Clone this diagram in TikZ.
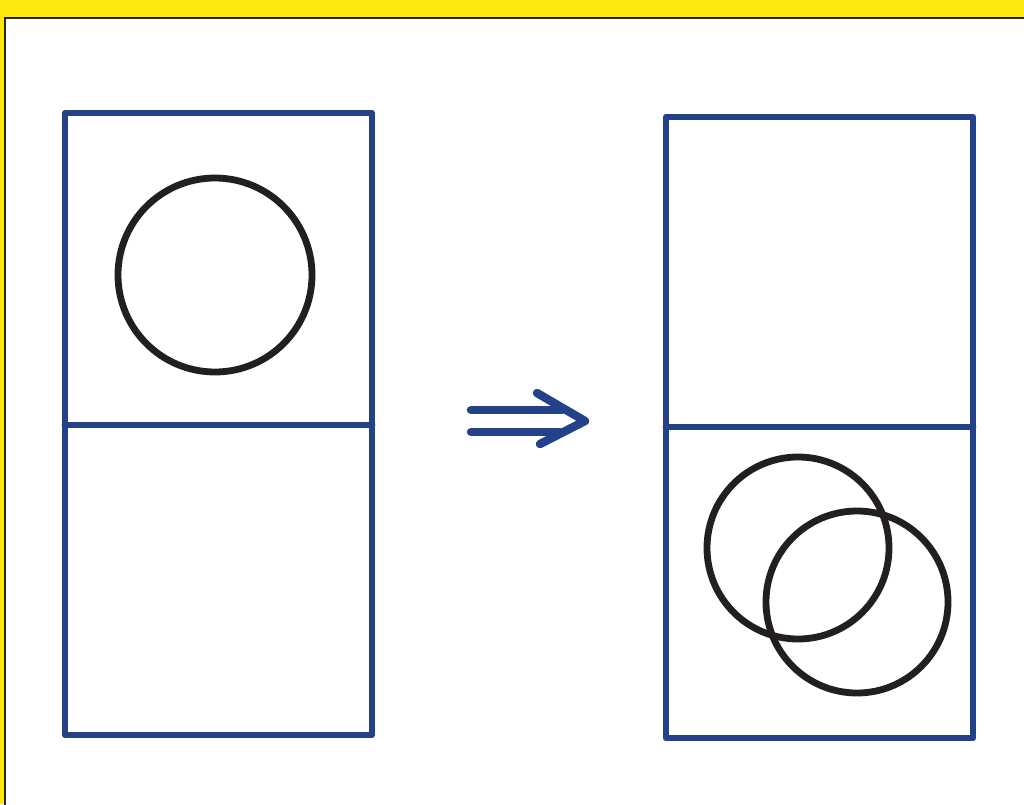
\documentclass[tikz,border=0pt]{standalone}
\usetikzlibrary{arrows.meta}
\definecolor{frameyellow}{HTML}{FDE910}
\definecolor{boxblue}{HTML}{24428A}
\definecolor{ringblack}{HTML}{231F20}
\tikzset{panel/.style={draw=boxblue, line width=1.7mm, line cap=round, line join=round},
  ring/.style={draw=ringblack, line width=1.7mm},
  imply/.style={draw=boxblue, line width=2.1mm, line cap=round, line join=round}}

\begin{document}
\begin{tikzpicture}[x=0.25mm, y=-0.25mm]
  \useasboundingbox (0,0) rectangle (1024,804);
  % frame
  \fill[frameyellow] (0,0) rectangle (1024,804);
  \draw[fill=white, draw=black!85, line width=0.5mm] (5,18) rectangle (1030,810);
  % before: one circle in the upper cell
  \draw[panel] (65,113) rectangle (372,735);
  \draw[panel] (65,425) -- (372,425);
  \draw[ring] (215,275) circle (97);
  % implication arrow
  \draw[imply] (471,410) -- (562,410);
  \draw[imply] (471,432) -- (560,432);
  \draw[imply] (537,393) -- (585,421) -- (540,444);
  % after: two overlapping circles in the lower cell
  \draw[panel] (666,117) rectangle (973,738);
  \draw[panel] (666,427) -- (973,427);
  \draw[ring] (798,548) circle (91);
  \draw[ring] (857,602) circle (91);
\end{tikzpicture}
\end{document}
